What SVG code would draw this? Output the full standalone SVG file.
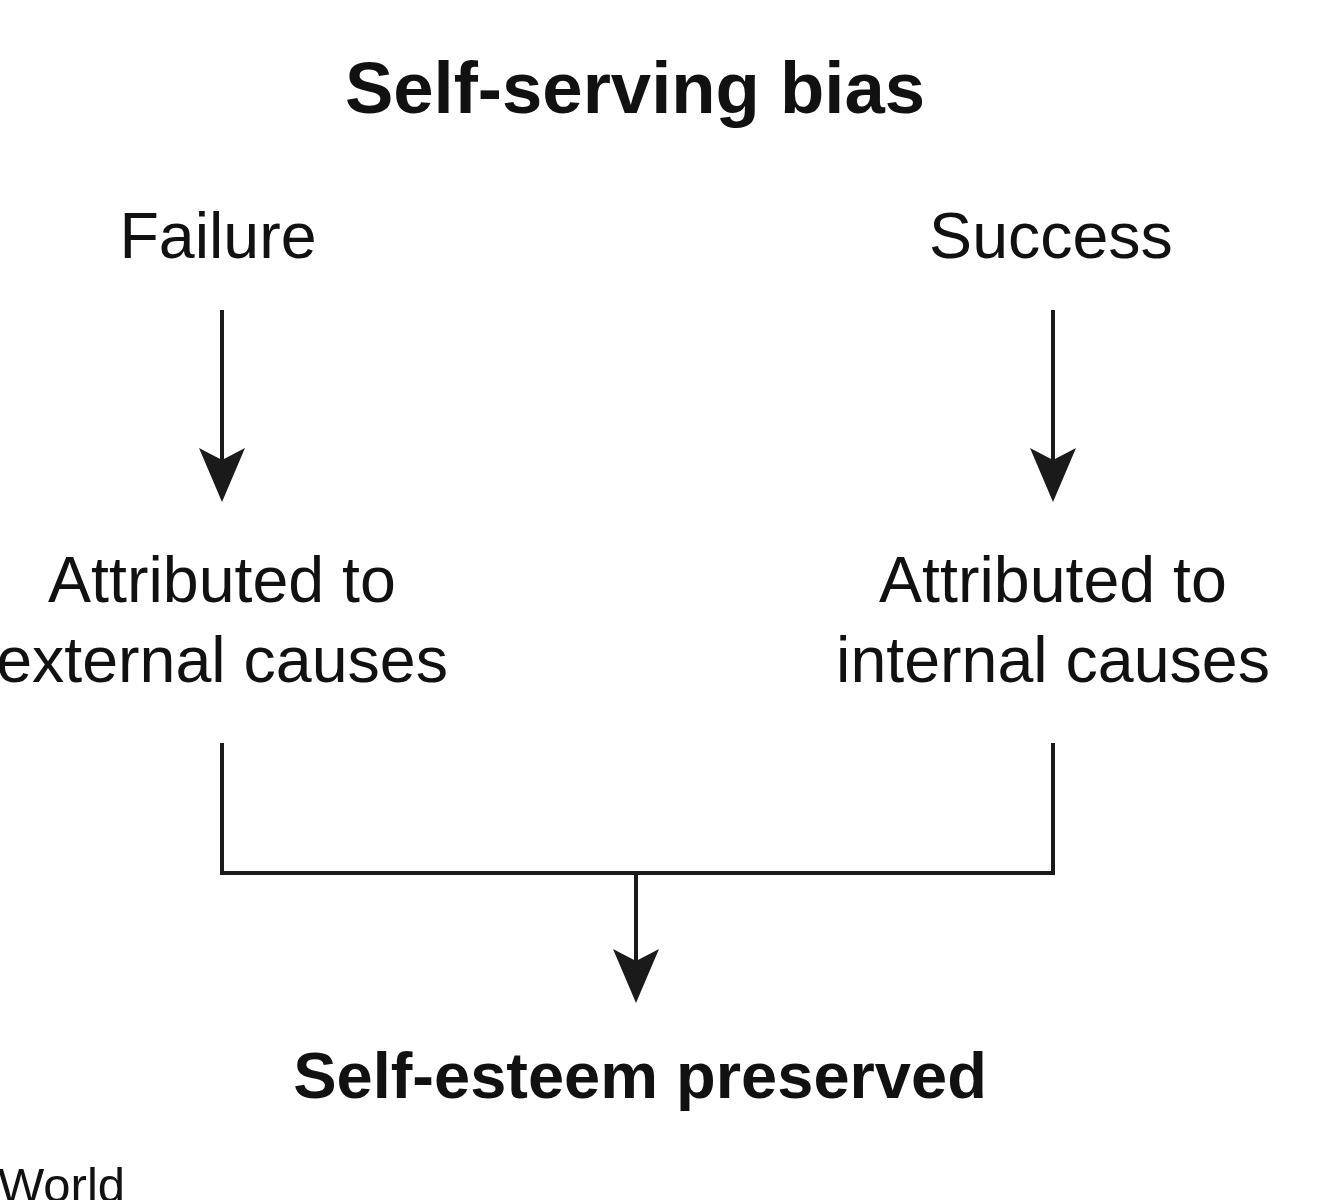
<svg xmlns="http://www.w3.org/2000/svg" width="1341" height="1200" viewBox="0 0 1341 1200">
<style>
.t{font-family:"Liberation Sans",Arial,sans-serif;fill:#111;text-anchor:middle}
.n{font-size:64.5px}
.b{font-size:65px;font-weight:bold}
.c{fill:none;stroke:#1a1a1a;stroke-width:4}
</style>
<defs>
<marker id="ah" markerUnits="userSpaceOnUse" viewBox="0 0 54 46" refX="42" refY="23" markerWidth="54" markerHeight="46" orient="auto">
<path d="M0,0 L54,23 L0,46 L12,23 Z" fill="#1a1a1a"/>
</marker>
</defs>
<rect width="1341" height="1200" fill="#fff"/>
<g id="title"><text class="t" x="635" y="113" style="font-size:72.5px;font-weight:bold">Self-serving bias</text></g>
<g id="failure"><text class="t n" x="218" y="258">Failure</text></g>
<g id="success"><text class="t n" x="1051" y="258">Success</text></g>
<g id="external"><text class="t n" x="222" y="602">Attributed to</text><text class="t n" x="222" y="682">external causes</text></g>
<g id="internal"><text class="t n" x="1053" y="602">Attributed to</text><text class="t n" x="1053" y="682">internal causes</text></g>
<g id="preserved"><text class="t b" x="640" y="1098">Self-esteem preserved</text></g>
<g id="world"><text class="t" x="-2" y="1202" style="font-size:49px;text-anchor:start">World</text></g>
<g id="connectors">
<line class="c" x1="222" y1="310" x2="222" y2="490" marker-end="url(#ah)"/>
<line class="c" x1="1053" y1="310" x2="1053" y2="490" marker-end="url(#ah)"/>
<polyline class="c" points="222,743 222,873 1053,873 1053,743"/>
<line class="c" x1="636" y1="873" x2="636" y2="991" marker-end="url(#ah)"/>
</g>
</svg>
